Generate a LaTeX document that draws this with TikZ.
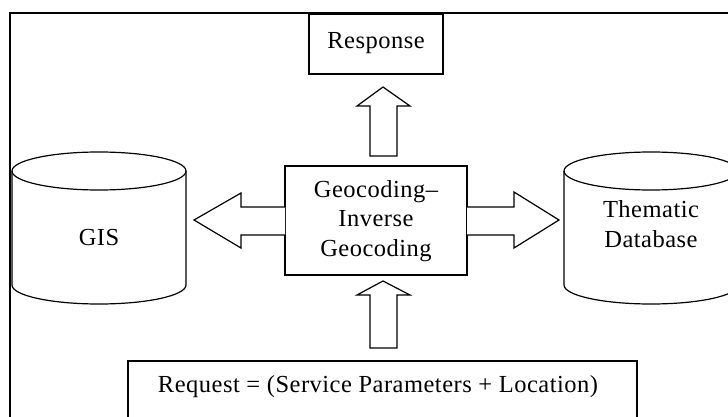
\documentclass[tikz,border=0pt]{standalone}
\usepackage{fontspec}
\setmainfont{Liberation Serif}[LetterSpace=2]
\begin{document}
\begin{tikzpicture}[x=1pt,y=-1pt,
  line join=miter,
  outline/.style={draw=black,line width=1.2pt},
  lbl/.style={font=\fontsize{24.5}{29.5}\selectfont,align=center,inner sep=0pt},
  blockarrow/.style={draw=black,line width=1.2pt,fill=white}]
\useasboundingbox (0,0) rectangle (728,417);
\clip (0,0) rectangle (728,417);
\fill[white] (0,0) rectangle (728,417);

% outer frame (top and left edges)
\draw[line width=1.6pt] (10,430) -- (10,13) -- (740,13);

% response box
\draw[outline] (309,14) rectangle (443,74);
\node[lbl] (resp) at (376,43) {Response};

% central processing box
\draw[outline] (285,166) rectangle (467,275);
\node[lbl] (core) at (376,221) {Geocoding--\\Inverse\\Geocoding};

% request box
\draw[outline] (128,361) rectangle (637,440);
\node[lbl] (req) at (378,387) {Request = (Service Parameters + Location)};

% GIS cylinder
\draw[outline] (12,171) -- (12,285) arc[start angle=180,end angle=360,x radius=87,y radius=-19] -- (186,171);
\draw[outline] (99,171) ellipse[x radius=87,y radius=19];
\node[lbl] (gis) at (99,238) {GIS};

% thematic database cylinder
\draw[outline] (564,171) -- (564,285) arc[start angle=180,end angle=360,x radius=87,y radius=-19] -- (738,171);
\draw[outline] (651,171) ellipse[x radius=87,y radius=19];
\node[lbl] (tdb) at (651,224) {Thematic\\Database};

% block arrows
\draw[blockarrow] (370,156) -- (370,106) -- (357,106) -- (383,87) -- (410,106) -- (397,106) -- (397,156) -- cycle;
\draw[blockarrow] (370,348) -- (370,295) -- (357,295) -- (383,281) -- (410,295) -- (397,295) -- (397,348) -- cycle;
\draw[blockarrow] (285,207) -- (241,207) -- (241,193) -- (194,220) -- (241,248) -- (241,235) -- (285,235);
\draw[blockarrow] (467,207) -- (514,207) -- (514,192) -- (559,220) -- (514,248) -- (514,235) -- (467,235);
\end{tikzpicture}
\end{document}
